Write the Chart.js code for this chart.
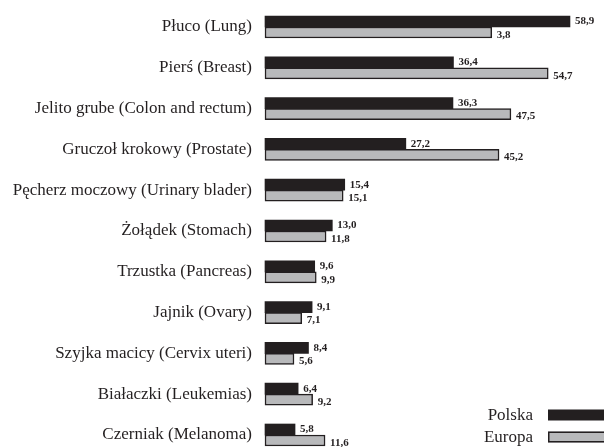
<!DOCTYPE html>
<html>
<head>
<meta charset="utf-8">
<script src="https://cdn.jsdelivr.net/npm/chart.js@4/dist/chart.umd.min.js"></script>
<style>
  html, body { margin: 0; padding: 0; background: #fff; }
  #wrap { width: 604px; height: 447px; }
</style>
</head>
<body>
<div id="wrap"><canvas id="cancerChart"></canvas></div>
<script>
const categories = [
  'Płuco (Lung)', 'Pierś (Breast)', 'Jelito grube (Colon and rectum)',
  'Gruczoł krokowy (Prostate)', 'Pęcherz moczowy (Urinary blader)',
  'Żołądek (Stomach)', 'Trzustka (Pancreas)', 'Jajnik (Ovary)',
  'Szyjka macicy (Cervix uteri)', 'Białaczki (Leukemias)', 'Czerniak (Melanoma)'
];
const polskaValues = [58.9, 36.4, 36.3, 27.2, 15.4, 13.0, 9.6, 9.1, 8.4, 6.4, 5.8];
const europaValues = [43.8, 54.7, 47.5, 45.2, 15.1, 11.8, 9.9, 7.1, 5.6, 9.2, 11.6];
// printed labels as in the source (lung Europa reads "3,8")
const polskaLabels = ['58,9', '36,4', '36,3', '27,2', '15,4', '13,0', '9,6', '9,1', '8,4', '6,4', '5,8'];
const europaLabels = ['3,8', '54,7', '47,5', '45,2', '15,1', '11,8', '9,9', '7,1', '5,6', '9,2', '11,6'];

const ink = '#231f20';
const serif = "'Liberation Serif', 'DejaVu Serif', serif";

const valueLabels = {
  id: 'valueLabels',
  afterDatasetsDraw(chart) {
    const ctx = chart.ctx;
    ctx.save();
    ctx.fillStyle = ink;
    ctx.font = 'bold 11px ' + serif;
    ctx.textAlign = 'left';
    ctx.textBaseline = 'middle';
    chart.data.datasets.forEach((ds, i) => {
      const meta = chart.getDatasetMeta(i);
      meta.data.forEach((bar, j) => {
        const dy = i === 0 ? 0 : 2.5;
        ctx.fillText(ds.valueText[j], bar.x + 5, bar.y + dy);
      });
    });
    ctx.restore();
  }
};

const sideLegend = {
  id: 'sideLegend',
  afterDraw(chart) {
    const ctx = chart.ctx;
    ctx.save();
    ctx.font = '17px ' + serif;
    ctx.textAlign = 'right';
    ctx.textBaseline = 'middle';
    chart.data.datasets.forEach((ds, i) => {
      const y = 415 + i * 22;
      ctx.fillStyle = ink;
      ctx.fillText(ds.label, 533, y + 1);
      ctx.fillStyle = ds.backgroundColor;
      ctx.fillRect(548, y - 5.5, 60, 11);
      if (ds.borderWidth) {
        ctx.strokeStyle = ink;
        ctx.lineWidth = 1.5;
        ctx.strokeRect(548.75, y - 4.75, 60, 9.5);
      }
    });
    ctx.restore();
  }
};

new Chart(document.getElementById('cancerChart'), {
  type: 'bar',
  data: {
    labels: categories,
    datasets: [{
      label: 'Polska',
      data: polskaValues,
      valueText: polskaLabels,
      backgroundColor: ink,
      borderWidth: 0,
      barThickness: 11,
      clip: false
    }, {
      label: 'Europa',
      data: europaValues,
      valueText: europaLabels,
      backgroundColor: '#b8b9bb',
      borderColor: ink,
      borderWidth: 1.5,
      borderSkipped: false,
      barThickness: 11,
      clip: false
    }]
  },
  options: {
    indexAxis: 'y',
    responsive: true,
    maintainAspectRatio: false,
    animation: false,
    layout: { padding: { top: 27, bottom: 12, right: 4, left: 0 } },
    plugins: {
      legend: { display: false },
      tooltip: { enabled: false }
    },
    scales: {
      x: { display: false, min: 0, max: 64.7 },
      y: {
        offset: false,
        grid: { display: false, drawTicks: false },
        border: { display: false },
        ticks: { color: ink, font: { family: serif, size: 17 }, padding: 13 },
        afterFit(scale) {
          scale.width = 265;
          // tick padding would otherwise push the first/last rows inward
          scale.paddingTop = 0;
          scale.paddingBottom = 0;
        }
      }
    }
  },
  plugins: [valueLabels, sideLegend]
});
</script>
</body>
</html>
